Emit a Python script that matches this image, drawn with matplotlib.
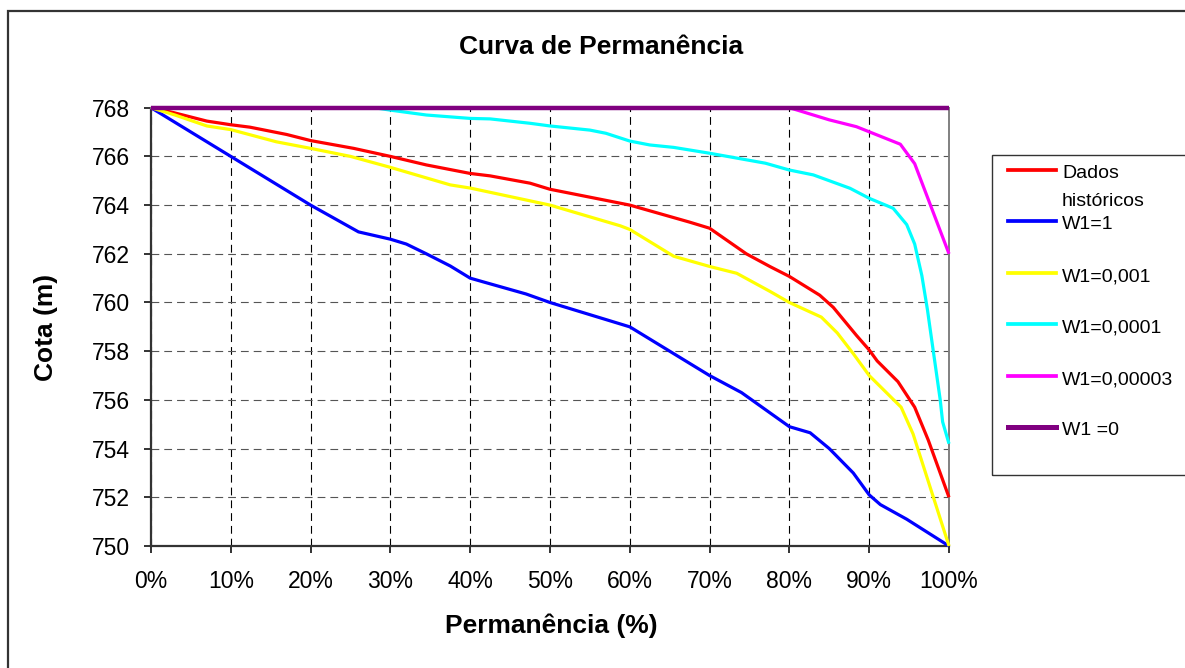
import matplotlib
matplotlib.use('Agg')
import matplotlib.pyplot as plt
import matplotlib.ticker as ticker
from matplotlib.lines import Line2D
from matplotlib.patches import Rectangle

plt.rcParams['font.family'] = ['Liberation Sans', 'DejaVu Sans']

W, H = 1185, 668

# data (permanencia %, cota m)
hist_x = [0, 2.8, 7, 10, 12.4, 17, 20, 25.4, 30, 34.5, 40, 42.5, 47.5, 50, 60, 67.5, 70,
          74.6, 77.6, 80, 83.8, 85.5, 88.4, 90, 91, 93.6, 95.7, 97.4, 100]
hist_y = [768, 767.8, 767.45, 767.3, 767.2, 766.9, 766.65, 766.33, 766.0, 765.65, 765.3, 765.2,
          764.9, 764.65, 764.0, 763.3, 763.05, 762.0, 761.47, 761.07, 760.3, 759.8, 758.65,
          758.05, 757.6, 756.75, 755.7, 754.35, 752.0]

w1_x = [0, 10, 17, 20, 23, 26, 30, 32, 34.5, 37.5, 40, 41.6, 47, 50, 60, 67, 70, 74, 80,
        82.6, 85, 88, 90, 91.4, 94.7, 100]
w1_y = [768, 766, 764.6, 764, 763.45, 762.9, 762.6, 762.4, 762.0, 761.5, 761.0, 760.85,
        760.35, 760.0, 759.0, 757.6, 757.0, 756.3, 754.9, 754.65, 754.0, 753.0, 752.1,
        751.7, 751.1, 750.0]

w001_x = [0, 3, 7, 10, 15.7, 20, 25, 30, 37.5, 40, 50, 58.8, 60, 65.5, 70, 73.4, 77.6, 80,
          82, 84, 86, 88, 90, 94, 95.5, 100]
w001_y = [768, 767.7, 767.25, 767.1, 766.6, 766.33, 766.0, 765.55, 764.83, 764.7, 764.0,
          763.15, 763.0, 761.9, 761.48, 761.2, 760.45, 760.0, 759.7, 759.4, 758.75, 757.9,
          757.0, 755.7, 754.6, 750.0]

w0001_x = [0, 28, 30, 34.5, 40, 42.5, 47.5, 50, 55, 57, 60, 62.5, 65.5, 70, 77, 80, 83, 87.6,
           90, 93, 94.7, 95.7, 96.6, 97.3, 97.6, 98.9, 99.2, 100]
w0001_y = [768, 768, 767.9, 767.7, 767.56, 767.54, 767.36, 767.25, 767.08, 766.95, 766.63,
           766.47, 766.37, 766.13, 765.72, 765.44, 765.24, 764.69, 764.28, 763.87, 763.2,
           762.4, 761.1, 759.7, 759.0, 756.0, 755.1, 754.2]

w00003_x = [0, 80, 85, 88.4, 93.9, 95.7, 100]
w00003_y = [768, 768, 767.5, 767.22, 766.5, 765.7, 762.0]

w0_x = [0, 100]
w0_y = [768, 768]

labels = ['Dados\nhistóricos', 'W1=1', 'W1=0,001', 'W1=0,0001', 'W1=0,00003', 'W1 =0']
colors = ['#FF0000', '#0000FF', '#FFFF00', '#00FFFF', '#FF00FF', '#800080']
widths = [2.3, 2.3, 2.3, 2.3, 2.3, 3.2]

xticks = [0, 10, 20, 30, 40, 50, 60, 70, 80, 90, 100]
yticks = [750, 752, 754, 756, 758, 760, 762, 764, 766, 768]

fig = plt.figure(figsize=(W / 100, H / 100), dpi=100)


def fx(px):
    return px / W


def fy(py):
    return 1 - py / H


ax = fig.add_axes([fx(151), fy(546), fx(949) - fx(151), fy(107.7) - fy(546)])

series = [(hist_x, hist_y), (w1_x, w1_y), (w001_x, w001_y), (w0001_x, w0001_y),
          (w00003_x, w00003_y), (w0_x, w0_y)]
for (xs, ys), c, lw in zip(series, colors, widths):
    ax.plot(xs, ys, color=c, linewidth=lw, clip_on=False, zorder=3,
            solid_joinstyle='round', solid_capstyle='butt')

ax.set_xlim(0, 100)
ax.set_ylim(750, 768)
ax.set_xticks(xticks)
ax.set_yticks(yticks)
ax.xaxis.set_major_formatter(ticker.FuncFormatter(lambda v, p: '%d%%' % v))

# dashed grid like the excel chart
ax.xaxis.grid(True, color='black', linewidth=0.8, linestyle=(0, (7, 4.5)))
ax.yaxis.grid(True, color='#555555', linewidth=0.8, linestyle=(0, (7, 4.5)))
ax.set_axisbelow(True)

for s in ['left', 'bottom']:
    ax.spines[s].set_color('#333333')
    ax.spines[s].set_linewidth(1.6)
for s in ['right', 'top']:
    ax.spines[s].set_color('#808080')
    ax.spines[s].set_linewidth(1.4)

ax.tick_params(axis='both', direction='out', length=5, width=1.4, color='#333333',
               labelsize=16.5)
ax.tick_params(axis='x', pad=12)
ax.tick_params(axis='y', pad=10)

fig.text(fx(601), fy(54), 'Curva de Permanência', ha='center', va='baseline',
         fontsize=19, fontweight='bold')
fig.text(fx(551), fy(632.5), 'Permanência (%)', ha='center', va='baseline',
         fontsize=19, fontweight='bold')
fig.text(fx(46), fy(327), 'Cota (m)', ha='center', va='center', rotation=90,
         fontsize=19, fontweight='bold')

# outer chart border (cut by the picture edge on right and bottom)
fig.add_artist(Rectangle((fx(8), fy(900)), fx(1500) - fx(8), fy(11) - fy(900),
                         transform=fig.transFigure, fill=False, edgecolor='#333333',
                         linewidth=1.6))

# legend box, built like excel's one
fig.add_artist(Rectangle((fx(991.5), fy(475)), fx(1500) - fx(991.5), fy(155) - fy(475),
                         transform=fig.transFigure, fill=False, edgecolor='#333333',
                         linewidth=1.0))
row_y = [170, 221, 273, 324, 376, 427]
for lab, c, lw, ry in zip(labels, colors, widths, row_y):
    fig.add_artist(Line2D([fx(1008), fx(1056)], [fy(ry), fy(ry)], color=c,
                          linewidth=lw + 0.4, transform=fig.transFigure))
    for k, part in enumerate(lab.split('\n')):
        fig.text(fx(1062), fy(ry + 8.3 + 28 * k), part, ha='left', va='baseline',
                 fontsize=14)

plt.savefig('out.png', dpi=100)
